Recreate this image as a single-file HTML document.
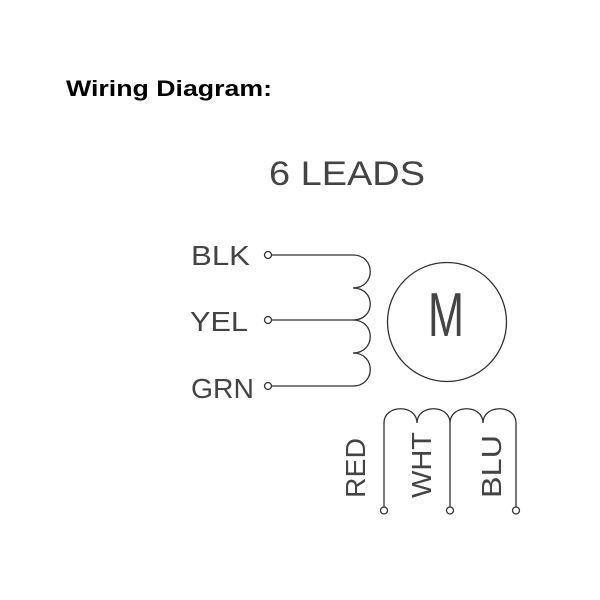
<!DOCTYPE html>
<html><head><meta charset="utf-8"><style>html,body{margin:0;padding:0;background:#fff;width:600px;height:600px;overflow:hidden}</style></head>
<body>
<svg width="600" height="600" viewBox="0 0 600 600" xmlns="http://www.w3.org/2000/svg">
<text x="66" y="96" font-family="Liberation Sans, sans-serif" font-weight="bold" font-size="22" textLength="206" lengthAdjust="spacingAndGlyphs" fill="#000">Wiring Diagram:</text>
<g font-family="Liberation Sans, sans-serif" fill="#444">
<text x="269" y="185" font-size="34" textLength="156" lengthAdjust="spacingAndGlyphs">6  LEADS</text>
<text x="191" y="265" font-size="28" textLength="59" lengthAdjust="spacingAndGlyphs">BLK</text>
<text x="190" y="331" font-size="28" textLength="58" lengthAdjust="spacingAndGlyphs">YEL</text>
<text x="191" y="398" font-size="28" textLength="63" lengthAdjust="spacingAndGlyphs">GRN</text>
<text x="428" y="336" font-size="62" textLength="36" lengthAdjust="spacingAndGlyphs">M</text>
<text transform="translate(365,498) rotate(-90)" font-size="28" textLength="60" lengthAdjust="spacingAndGlyphs">RED</text>
<text transform="translate(431,498) rotate(-90)" font-size="28" textLength="66" lengthAdjust="spacingAndGlyphs">WHT</text>
<text transform="translate(501,498) rotate(-90)" font-size="28" textLength="63" lengthAdjust="spacingAndGlyphs">BLU</text>
</g>
<g fill="none" stroke="#333" stroke-width="1.3">
<circle cx="447" cy="322" r="59.5"/>
<circle cx="268" cy="255" r="3.5"/>
<circle cx="268" cy="320" r="3.5"/>
<circle cx="268" cy="386" r="3.5"/>
<path d="M271.5 255 H353 M271.5 320 H353 M271.5 386 H353"/>
<path d="M353 255 C376 255 376 288 353 288 C376 288 376 320 353 320 C376 320 376 353 353 353 C376 353 376 386 353 386"/>
<path d="M384 507 V423 C384 404 417 404 417 423 C417 404 450 404 450 423 C450 404 483 404 483 423 C483 404 516 404 516 423 V507 M450 423 V507"/>
<circle cx="384" cy="510.5" r="3.5"/>
<circle cx="450" cy="510.5" r="3.5"/>
<circle cx="516" cy="510.5" r="3.5"/>
</g>
</svg>
</body></html>
